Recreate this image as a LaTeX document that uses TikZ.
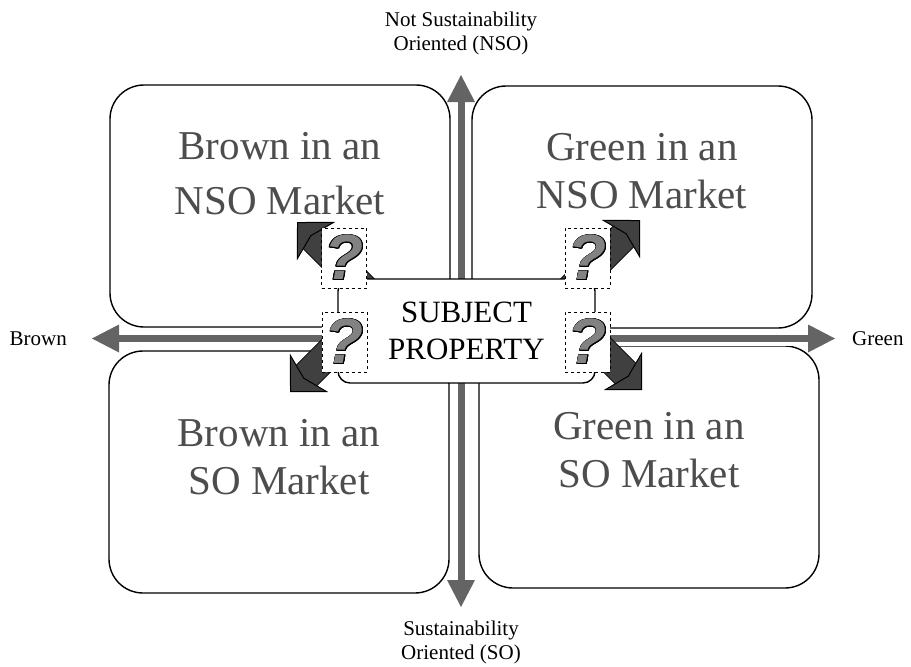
\documentclass[tikz,border=0pt]{standalone}
\usepackage{fontspec}
\setmainfont{Liberation Serif}
\newfontfamily\qmarkfont{Liberation Sans}
\usepackage{contour}
\contourlength{0.8pt}
\usetikzlibrary{arrows.meta,positioning}
\definecolor{axisgray}{HTML}{646464}
\definecolor{arrowdark}{HTML}{404040}
\definecolor{quadgray}{HTML}{4D4D4D}
\definecolor{qgray}{HTML}{828282}
\tikzset{
	quadbox/.style={rectangle, draw=black, line width=1.4pt, rounded corners=34pt, fill=white,
		minimum width=340pt, minimum height=242pt, inner sep=0pt},
	quadlabel/.style={text=quadgray, align=center, inner sep=0pt, font=\fontsize{41}{48}\selectfont},
	axislabel/.style={align=center, inner sep=0pt, font=\fontsize{21}{24}\selectfont},
	axisarr/.style={{Triangle[length=27pt,width=28pt,line width=0pt]}-{Triangle[length=27pt,width=28pt,line width=0pt]},
		line width=7pt, draw=axisgray, preaction={draw=white, line width=15pt, -}},
	markarr/.style={-{Stealth[length=27pt,width=54pt,inset=7pt,line width=1pt,fill=arrowdark,color=black]},
		line width=28pt, draw=arrowdark, preaction={draw=black, line width=30pt, -, shorten >=18pt}},
	subjbox/.style={rectangle, draw=black, line width=1.4pt, rounded corners=12pt, fill=white,
		minimum width=257pt, minimum height=104pt, align=center, font=\fontsize{31}{37}\selectfont},
	qbox/.style={rectangle, draw=black, dashed, line width=0.9pt, fill=white,
		minimum width=45pt, minimum height=60pt, inner sep=0pt,
		font=\fontsize{64}{64}\qmarkfont\bfseries\itshape\selectfont}
}
\newcommand{\qm}{\contour{black}{\textcolor{qgray}{?}}}

\begin{document}
\begin{tikzpicture}[x=1pt, y=-1pt, node distance=20pt]
	\useasboundingbox (0,0) rectangle (911,667);
	\node[quadbox] (bnso) at (280,206) {};
	\node[quadbox] (gnso) at (642,207) {};
	\node[quadbox] (bso) at (279,472) {};
	\node[quadbox] (gso) at (649,467) {};
	\node[quadlabel, below=48pt of bnso.north, anchor=north] (bnsotext) {Brown in an\\[7pt]NSO Market};
	\node[quadlabel, below=48pt of gnso.north, anchor=north] (gnsotext) {Green in an\\NSO Market};
	\node[quadlabel, below=69pt of bso.north, anchor=north] (bsotext) {Brown in an\\SO Market};
	\node[quadlabel, below=67pt of gso.north, anchor=north] (gsotext) {Green in an\\SO Market};
	\coordinate (ytop) at (461,75);
	\coordinate (ybot) at (461,607);
	\coordinate (xleft) at (92,338.5);
	\coordinate (xright) at (835,338.5);
	\draw[axisarr] (ybot) -- (ytop);
	\draw[axisarr] (xleft) -- (xright);
	\node[axislabel, above=20pt of ytop] (nso) {Not Sustainability\\Oriented (NSO)};
	\node[axislabel, below=14pt of ybot] (so) {Sustainability\\Oriented (SO)};
	\node[axislabel, left=25pt of xleft] (brown) {Brown};
	\node[axislabel, right=17pt of xright] (green) {Green};
	\coordinate (bnsofrom) at (375,300);
	\coordinate (bnsoto) at (297,222);
	\coordinate (gnsofrom) at (560,300);
	\coordinate (gnsoto) at (640,220);
	\coordinate (bsofrom) at (370,312);
	\coordinate (bsoto) at (290,392);
	\coordinate (gsofrom) at (562,310);
	\coordinate (gsoto) at (642,390);
	\draw[markarr] (bnsofrom) -- (bnsoto);
	\draw[markarr] (gnsofrom) -- (gnsoto);
	\draw[markarr] (bsofrom) -- (bsoto);
	\draw[markarr] (gsofrom) -- (gsoto);
	\node[subjbox] (subject) at (466.5,331) {SUBJECT\\PROPERTY};
	\node[qbox] (qbnso) at (344,258) {\qm};
	\node[qbox] (qbso) at (344.5,342) {\qm};
	\node[qbox] (qgnso) at (587.5,258) {\qm};
	\node[qbox] (qgso) at (587.5,342) {\qm};
\end{tikzpicture}
\end{document}
